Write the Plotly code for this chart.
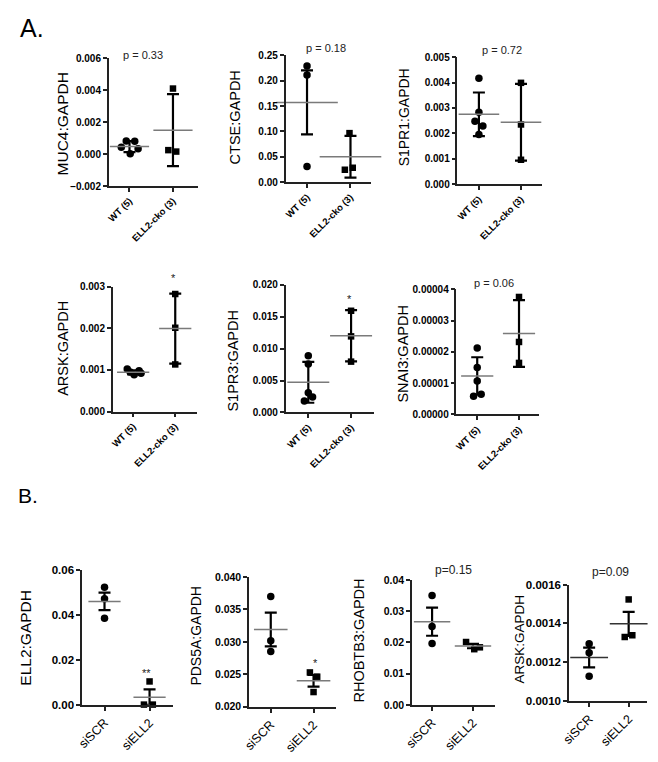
import plotly.graph_objects as go

W, H = 658, 762
FONT = "Liberation Sans"

# ---------------- data ----------------
genes = ["MUC4:GAPDH", "CTSE:GAPDH", "S1PR1:GAPDH", "ARSK:GAPDH", "S1PR3:GAPDH",
         "SNAI3:GAPDH", "ELL2:GAPDH", "PDS5A:GAPDH", "RHOBTB3:GAPDH", "ARSK:GAPDH"]
cats_A = ["WT (5)", "ELL2-cko (3)"]
cats_B = ["siSCR", "siELL2"]
labels = ["p = 0.33", "p = 0.18", "p = 0.72", "*", "*", "p = 0.06", "**", "*", "p=0.15", "p=0.09"]

muc4_wt = [0.00082, 0.00080, 0.00043, 0.00033, 0.00002]
muc4_ko = [0.0041, 0.00025, 0.00016]
muc4_mean = [0.00047, 0.0015]
muc4_err = [0.00034, 0.00225]

ctse_wt = [0.229, 0.211, 0.031]
ctse_ko = [0.0966, 0.0245, 0.0284]
ctse_mean = [0.157, 0.050]
ctse_err = [0.063, 0.041]

s1pr1_wt = [0.00417, 0.00283, 0.00248, 0.00229, 0.00196]
s1pr1_ko = [0.00399, 0.00235, 0.00096]
s1pr1_mean = [0.00275, 0.00244]
s1pr1_err = [0.00086, 0.00151]

arskA_wt = [0.00102, 0.00098, 0.00095, 0.00092, 0.00088]
arskA_ko = [0.00282, 0.00201, 0.00113]
arskA_mean = [0.00094, 0.00199]
arskA_err = [0.00005, 0.00084]

s1pr3_wt = [0.00887, 0.00759, 0.00308, 0.00241, 0.0018]
s1pr3_ko = [0.0159, 0.0119, 0.00795]
s1pr3_mean = [0.00472, 0.0120]
s1pr3_err = [0.0032, 0.0040]

snai3_wt = [2.13e-5, 1.50e-5, 1.07e-5, 0.65e-5, 0.58e-5]
snai3_ko = [3.76e-5, 2.32e-5, 1.65e-5]
snai3_mean = [1.23e-5, 2.59e-5]
snai3_err = [0.60e-5, 1.07e-5]

ell2_scr = [0.0523, 0.0472, 0.0385]
ell2_si = [0.0104, 0.0001, 0.0001]
ell2_mean = [0.046, 0.0034]
ell2_err = [0.0039, 0.0035]

pds5a_scr = [0.03698, 0.03018, 0.02851]
pds5a_si = [0.02529, 0.02463, 0.02227]
pds5a_mean = [0.0319, 0.0240]
pds5a_err = [0.0026, 0.0009]

rhob_scr = [0.0350, 0.0251, 0.0196]
rhob_si = [0.0201, 0.0178, 0.0184]
rhob_mean = [0.0266, 0.0188]
rhob_err = [0.0045, 0.0007]

arskB_scr = [0.001295, 0.001249, 0.001127]
arskB_si = [0.001524, 0.001330, 0.001339]
arskB_mean = [0.001224, 0.001398]
arskB_err = [0.000051, 0.000062]

# ---------------- layout / style (pixels) ----------------
# box: x0 (y-axis line), x1 (x-axis end), ytop, ybot, cat0 px, cat1 px
boxes = [
    (102, 192, 53, 183, 123, 167),
    (281, 367, 50, 179, 302.7, 346.7),
    (455, 541, 52, 181, 476.7, 519.3),
    (106, 191, 285, 412, 126.7, 169.3),
    (281, 370, 283, 413, 304, 347.3),
    (454, 538, 288, 415, 475, 517.3),
    (75, 167, 573, 710, 97.7, 143.3),
    (244, 332, 580, 712, 266, 309.3),
    (409, 493, 583, 710, 429.3, 470.7),
    (568, 647, 588, 706, 588.3, 628.3),
]
yranges = [(-0.002, 0.006, 0.002, ".3f"), (0, 0.25, 0.05, ".2f"), (0, 0.005, 0.001, ".3f"),
           (0, 0.003, 0.001, ".3f"), (0, 0.02, 0.005, ".3f"), (0, 4e-5, 1e-5, ".5f"),
           (0, 0.06, 0.02, ".2f"), (0.02, 0.04, 0.005, ".3f"), (0, 0.04, 0.01, ".2f"),
           (0.001, 0.0016, 0.0002, ".4f")]
# jitter offsets in px
jit0 = [[-3.3, 5.3, -8.3, 8.7, 0.7], [0, 0, 0], [0, 0, -4, 4, 0], [-6, 6, -3, 8, 1],
        [0, 0, 0, 4.3, -4], [0, 0, 0, 4, -3.7], [0, 0, 0], [0, 0, 0], [0, 0, 0], [0, 0, 0]]
jit1 = [[0, -4.7, 3.3], [-1, -5.7, 2.3], [0, 0, 0], [0, 0, 0], [0, 0, 0], [0, 0, 0],
        [0, -5.7, 3.3], [-3.7, 3.7, 0], [-7, 1.3, 7], [0, -4, 3.7]]
meanw = [28, 44, 29, 23, 30, 23, 23, 24, 26, 27]
# label positions (px): y-title x,y ; p/star x,y
ytitle_pos = [(55, 120), (230, 113), (401, 113), (55, 348), (228, 360), (400, 353),
              (18, 642), (190, 640), (355, 645), (518, 643)]
ytitle_size = [15.5, 14.5, 14, 14.5, 14.5, 14.5, 15.5, 14, 14.5, 13.5]
lab_pos = [(137, 50), (322, 43), (500, 45), (168, 276), (346, 298), (492, 281),
           (140, 678), (311, 668), (451, 573), (610, 575)]

groups0 = [muc4_wt, ctse_wt, s1pr1_wt, arskA_wt, s1pr3_wt, snai3_wt, ell2_scr, pds5a_scr, rhob_scr, arskB_scr]
groups1 = [muc4_ko, ctse_ko, s1pr1_ko, arskA_ko, s1pr3_ko, snai3_ko, ell2_si, pds5a_si, rhob_si, arskB_si]
means = [muc4_mean, ctse_mean, s1pr1_mean, arskA_mean, s1pr3_mean, snai3_mean, ell2_mean, pds5a_mean, rhob_mean, arskB_mean]
errs = [muc4_err, ctse_err, s1pr1_err, arskA_err, s1pr3_err, snai3_err, ell2_err, pds5a_err, rhob_err, arskB_err]

fig = go.Figure()
layout = dict(width=W, height=H, margin=dict(l=0, r=0, t=0, b=0),
              paper_bgcolor="white", plot_bgcolor="white", showlegend=False,
              font=dict(family=FONT, color="black"))
annotations = []

for i in range(10):
    n = i + 1
    xa = "x" if n == 1 else f"x{n}"
    ya = "y" if n == 1 else f"y{n}"
    x0, x1, yt, yb, c0, c1 = boxes[i]
    u = c1 - c0
    rowB = i >= 6
    ymin, ymax, dt, fmt = yranges[i]

    fig.add_trace(go.Scatter(x=[0 + o / u for o in jit0[i]], y=groups0[i], mode="markers",
                             xaxis=xa, yaxis=ya, cliponaxis=False,
                             marker=dict(symbol="circle", size=7.5, color="black")))
    fig.add_trace(go.Scatter(x=[1 + o / u for o in jit1[i]], y=groups1[i], mode="markers",
                             xaxis=xa, yaxis=ya, cliponaxis=False,
                             marker=dict(symbol="square", size=6.5, color="black")))
    em = [min(e, m - ymin) for e, m in zip(errs[i], means[i])]
    fig.add_trace(go.Scatter(x=[0, 1], y=means[i], mode="markers", xaxis=xa, yaxis=ya,
                             cliponaxis=False,
                             marker=dict(symbol="line-ew", size=meanw[i],
                                         line=dict(width=1.5, color="#7a7a7a" if i != 9 else "#333")),
                             error_y=dict(type="data", array=errs[i], arrayminus=em,
                                          color="black", thickness=2.2, width=6)))

    layout["xaxis" if n == 1 else f"xaxis{n}"] = dict(
        domain=[x0 / W, x1 / W], anchor=ya,
        range=[(x0 - c0) / u, (x1 - c0) / u],
        tickvals=[0, 1], ticktext=cats_B if rowB else cats_A, tickangle=-45,
        ticks="outside", ticklen=4, tickwidth=1.5, tickcolor="#222",
        showline=True, linecolor="#222", linewidth=1.5, showgrid=False, zeroline=False,
        tickfont=dict(family=FONT, size=12.5 if rowB else 9.5, color="black",
                      weight="normal" if rowB else "bold"))
    layout["yaxis" if n == 1 else f"yaxis{n}"] = dict(
        domain=[1 - yb / H, 1 - yt / H], anchor=xa,
        range=[ymin, ymax], tick0=ymin, dtick=dt, tickformat=fmt,
        ticks="outside", ticklen=4, tickwidth=1.5, tickcolor="#222",
        showline=True, linecolor="#222", linewidth=1.5, showgrid=False, zeroline=False,
        tickfont=dict(family=FONT, size=(11.5 if i in (6, 9) else 10.5) if rowB else 10,
                      color="black", weight="bold"))

    tx, ty = ytitle_pos[i]
    annotations.append(dict(x=tx / W, y=1 - ty / H, xref="paper", yref="paper",
                            xanchor="center", yanchor="middle",
                            text=genes[i], textangle=-90, showarrow=False,
                            font=dict(family=FONT, size=ytitle_size[i], color="black")))
    lx, ly = lab_pos[i]
    star = labels[i].startswith("*")
    annotations.append(dict(x=lx / W, y=1 - ly / H, xref="paper", yref="paper",
                            xanchor="center", yanchor="middle",
                            text=labels[i], showarrow=False,
                            font=dict(family=FONT, size=(11 if star else (12 if rowB else 11)),
                                      color="#222")))

annotations.append(dict(x=10 / W, y=1 - 22 / H, xref="paper", yref="paper", text="A.",
                        xanchor="left", yanchor="middle", showarrow=False,
                        font=dict(family=FONT, size=25, color="black")))
annotations.append(dict(x=8 / W, y=1 - 497 / H, xref="paper", yref="paper", text="B.",
                        xanchor="left", yanchor="middle", showarrow=False,
                        font=dict(family=FONT, size=21, color="black")))
layout["annotations"] = annotations
fig.update_layout(**layout)
fig.write_html("out.html", config={"displayModeBar": False},
               post_script="document.body.style.margin='0';document.body.style.padding='0';"
                           "document.body.style.overflow='hidden';")
